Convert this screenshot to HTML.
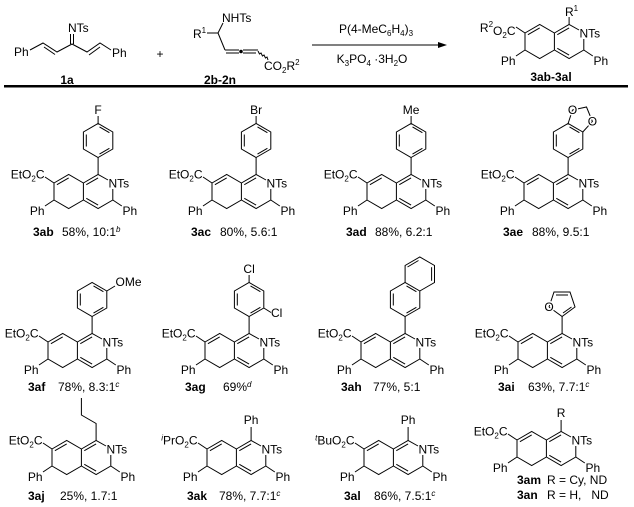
<!DOCTYPE html>
<html><head><meta charset="utf-8"><style>
html,body{margin:0;padding:0;background:#fff}
svg{display:block}
text{font-family:"Liberation Sans",Arial,sans-serif;font-size:12px;fill:#000}
.b{font-weight:bold}
</style></head><body>
<svg width="634" height="507" viewBox="0 0 634 507" xmlns="http://www.w3.org/2000/svg">
<defs>
<g id="core" stroke="#000" stroke-width="1" fill="none">
<polyline points="0,0 14.7,-8.5 29.4,0 29.4,17 14.7,25.5 0,17 0,0"/>
<line x1="2.9" y1="1.7" x2="14.7" y2="-5.1"/>
<polyline points="29.4,0 44.1,-8.5 54,-3"/>
<line x1="32.3" y1="1.7" x2="44.1" y2="-5.1"/>
<polyline points="58.8,6 58.8,17 44.1,25.5 29.4,17"/>
<line x1="32.3" y1="15.3" x2="44.1" y2="22.1"/>
<line x1="0" y1="0" x2="-9" y2="-6"/>
<line x1="0" y1="17" x2="-9" y2="23"/>
<line x1="58.8" y1="17" x2="67.8" y2="23"/>
</g>
<g id="coret">
<use href="#core"/>
<text x="54.5" y="4.3">NTs</text>
<text x="-9.5" y="32" text-anchor="end">Ph</text>
<text x="68.5" y="32">Ph</text>
</g>
<g id="ph" stroke="#000" stroke-width="1" fill="none">
<line x1="44.1" y1="-8.5" x2="44.1" y2="-25.5"/>
<polygon points="44.1,-25.5 58.8,-34 58.8,-51 44.1,-59.5 29.4,-51 29.4,-34"/>
<line x1="32.3" y1="-48.5" x2="32.3" y2="-36.5"/>
<line x1="45.5" y1="-56.1" x2="55.4" y2="-50.3"/>
<line x1="45.5" y1="-28.9" x2="55.4" y2="-34.7"/>
</g>
</defs>

<g stroke="#000" stroke-width="1" fill="none">
<polyline points="30,50 43,43 57,52 72,44 87,52 100,43 111,50"/>
<line x1="44" y1="47" x2="55" y2="54.5"/>
<line x1="89" y1="55" x2="100" y2="47"/>
<line x1="70.5" y1="44" x2="70.5" y2="34"/>
<line x1="73.5" y1="44" x2="73.5" y2="34"/>
</g>
<text x="14" y="56">Ph</text>
<text x="112" y="57">Ph</text>
<text x="68" y="32">NTs</text>
<text x="67" y="84" class="b" text-anchor="middle">1a</text>
<text x="160" y="58" text-anchor="middle">+</text>

<g stroke="#000" stroke-width="1" fill="none">
<line x1="207" y1="33" x2="218" y2="33"/>
<line x1="218" y1="33" x2="223" y2="23"/>
<line x1="218" y1="33" x2="225" y2="50"/>
<line x1="225" y1="50" x2="239" y2="50"/>
<line x1="226" y1="53" x2="239" y2="53"/>
<line x1="243" y1="50" x2="258" y2="50"/>
<line x1="243" y1="53" x2="256" y2="53"/>
<path d="M258,51 l1.5,3 l1.5,-1 l1.5,3 l1.5,-1 l1.5,3 l1.5,-1 l1,3"/>
</g>
<circle cx="241" cy="51.5" r="1.8" fill="#000"/>
<text x="193" y="38">R<tspan dy="-5" font-size="8">1</tspan></text>
<text x="222" y="22">NHTs</text>
<text x="264" y="70">CO<tspan dy="3" font-size="8">2</tspan><tspan dy="-3">R</tspan><tspan dy="-5" font-size="8">2</tspan></text>
<text x="220" y="84" class="b" text-anchor="middle">2b-2n</text>

<line x1="312" y1="45" x2="440" y2="45" stroke="#000" stroke-width="1"/>
<polygon points="447,45 438,42 438,48" fill="#000"/>
<text x="376" y="33" text-anchor="middle">P(4-MeC<tspan dy="3" font-size="8">6</tspan><tspan dy="-3">H</tspan><tspan dy="3" font-size="8">4</tspan><tspan dy="-3">)</tspan><tspan dy="3" font-size="8">3</tspan></text>
<text x="372" y="63" text-anchor="middle">K<tspan dy="3" font-size="8">3</tspan><tspan dy="-3">PO</tspan><tspan dy="3" font-size="8">4</tspan><tspan dy="-3">&#160;·3H</tspan><tspan dy="3" font-size="8">2</tspan><tspan dy="-3">O</tspan></text>

<g transform="translate(525,33)">
<use href="#coret"/>
<line x1="44.1" y1="-8.5" x2="44.1" y2="-16" stroke="#000"/>
<text x="40" y="-17">R<tspan dy="-5" font-size="8">1</tspan></text>
<text x="-9.5" y="-1" text-anchor="end">R<tspan dy="-5" font-size="8">2</tspan><tspan dy="8">O</tspan><tspan dy="3" font-size="8">2</tspan><tspan dy="-3">C</tspan></text>
<text x="26" y="48" class="b" text-anchor="middle">3ab-3al</text>
</g>

<rect x="4" y="85" width="624" height="2.5" fill="#000"/>

<g transform="translate(54,183)">
<use href="#coret"/><use href="#ph"/>
<line x1="44.1" y1="-59.5" x2="44.1" y2="-67" stroke="#000"/>
<text x="44.1" y="-69" text-anchor="middle">F</text>
<text x="-9.5" y="-4.5" text-anchor="end">EtO<tspan dy="3" font-size="8">2</tspan><tspan dy="-3">C</tspan></text>
<text x="-21" y="53"><tspan class="b">3ab</tspan><tspan x="8">58%, 10:1</tspan><tspan dy="-4" font-size="8" font-style="italic">b</tspan></text>
</g>
<g transform="translate(212,183)">
<use href="#coret"/><use href="#ph"/>
<line x1="44.1" y1="-59.5" x2="44.1" y2="-67" stroke="#000"/>
<text x="44.1" y="-69" text-anchor="middle">Br</text>
<text x="-9.5" y="-4.5" text-anchor="end">EtO<tspan dy="3" font-size="8">2</tspan><tspan dy="-3">C</tspan></text>
<text x="-21" y="53"><tspan class="b">3ac</tspan><tspan x="8">80%, 5.6:1</tspan></text>
</g>
<g transform="translate(367,183)">
<use href="#coret"/><use href="#ph"/>
<line x1="44.1" y1="-59.5" x2="44.1" y2="-67" stroke="#000"/>
<text x="44.1" y="-69" text-anchor="middle">Me</text>
<text x="-9.5" y="-4.5" text-anchor="end">EtO<tspan dy="3" font-size="8">2</tspan><tspan dy="-3">C</tspan></text>
<text x="-21" y="53"><tspan class="b">3ad</tspan><tspan x="8">88%, 6.2:1</tspan></text>
</g>
<g transform="translate(524,183)">
<use href="#coret"/><use href="#ph"/>
<g stroke="#000" fill="none"><polyline points="44.1,-59.5 48.5,-73 62.5,-76 68.4,-61.6 58.8,-51"/></g>
<text x="48.5" y="-69" text-anchor="middle" stroke="#fff" stroke-width="3" paint-order="stroke">O</text>
<text x="68.4" y="-57.5" text-anchor="middle" stroke="#fff" stroke-width="3" paint-order="stroke">O</text>
<text x="-9.5" y="-4.5" text-anchor="end">EtO<tspan dy="3" font-size="8">2</tspan><tspan dy="-3">C</tspan></text>
<text x="-21" y="53"><tspan class="b">3ae</tspan><tspan x="8">88%, 9.5:1</tspan></text>
</g>

<g transform="translate(48,342)">
<use href="#coret"/><use href="#ph"/>
<line x1="58.8" y1="-51" x2="67" y2="-56" stroke="#000"/>
<text x="67.5" y="-56">OMe</text>
<text x="-9.5" y="-4.5" text-anchor="end">EtO<tspan dy="3" font-size="8">2</tspan><tspan dy="-3">C</tspan></text>
<text x="-20" y="49"><tspan class="b">3af</tspan><tspan x="10">78%, 8.3:1</tspan><tspan dy="-4" font-size="8" font-style="italic">c</tspan></text>
</g>
<g transform="translate(205,342)">
<use href="#coret"/><use href="#ph"/>
<line x1="44.1" y1="-59.5" x2="44.1" y2="-67" stroke="#000"/>
<text x="44.1" y="-69" text-anchor="middle">Cl</text>
<line x1="58.8" y1="-34" x2="66" y2="-29.5" stroke="#000"/>
<text x="66" y="-25">Cl</text>
<text x="-9.5" y="-4.5" text-anchor="end">EtO<tspan dy="3" font-size="8">2</tspan><tspan dy="-3">C</tspan></text>
<text x="-20" y="49"><tspan class="b">3ag</tspan><tspan x="18">69%</tspan><tspan dy="-4" font-size="8" font-style="italic">d</tspan></text>
</g>
<g transform="translate(361,342)">
<use href="#coret"/><use href="#ph"/>
<g stroke="#000" fill="none">
<polyline points="44.1,-59.5 44.1,-76.5 58.8,-85 73.5,-76.5 73.5,-59.5 58.8,-51"/>
<line x1="70.6" y1="-74.8" x2="70.6" y2="-61.2"/>
<line x1="46.5" y1="-75" x2="57.5" y2="-81.5"/>
</g>
<text x="-9.5" y="-4.5" text-anchor="end">EtO<tspan dy="3" font-size="8">2</tspan><tspan dy="-3">C</tspan></text>
<text x="-20" y="49"><tspan class="b">3ah</tspan><tspan x="12">77%, 5:1</tspan></text>
</g>
<g transform="translate(518,342)">
<use href="#coret"/>
<g stroke="#000" fill="none">
<line x1="44.1" y1="-8.5" x2="44.1" y2="-25.5"/>
<polyline points="31,-35 44.1,-25.5 57,-35 52,-50 36,-50 31,-35"/>
<line x1="45" y1="-29" x2="53.5" y2="-35"/>
<line x1="38" y1="-47" x2="50" y2="-47"/>
</g>
<text x="31" y="-31" text-anchor="middle" stroke="#fff" stroke-width="3" paint-order="stroke">O</text>
<text x="-9.5" y="-4.5" text-anchor="end">EtO<tspan dy="3" font-size="8">2</tspan><tspan dy="-3">C</tspan></text>
<text x="-20" y="49"><tspan class="b">3ai</tspan><tspan x="10">63%, 7.7:1</tspan><tspan dy="-4" font-size="8" font-style="italic">c</tspan></text>
</g>

<g transform="translate(52,449)">
<use href="#coret"/>
<polyline points="44.1,-8.5 44.1,-25.5 29.4,-34 29.4,-51" stroke="#000" fill="none"/>
<text x="-9.5" y="-4.5" text-anchor="end">EtO<tspan dy="3" font-size="8">2</tspan><tspan dy="-3">C</tspan></text>
<text x="-24" y="51"><tspan class="b">3aj</tspan><tspan x="8">25%, 1.7:1</tspan></text>
</g>
<g transform="translate(207,449)">
<use href="#coret"/>
<line x1="44.1" y1="-8.5" x2="44.1" y2="-22" stroke="#000"/>
<text x="44.1" y="-25" text-anchor="middle">Ph</text>
<text x="-9.5" y="-4.5" text-anchor="end"><tspan font-size="8" font-style="italic" dy="-4">i</tspan><tspan dy="4">PrO</tspan><tspan dy="3" font-size="8">2</tspan><tspan dy="-3">C</tspan></text>
<text x="-20" y="51"><tspan class="b">3ak</tspan><tspan x="12">78%, 7.7:1</tspan><tspan dy="-4" font-size="8" font-style="italic">c</tspan></text>
</g>
<g transform="translate(364,449)">
<use href="#coret"/>
<line x1="44.1" y1="-8.5" x2="44.1" y2="-22" stroke="#000"/>
<text x="44.1" y="-25" text-anchor="middle">Ph</text>
<text x="-9.5" y="-4.5" text-anchor="end"><tspan font-size="8" font-style="italic" dy="-4">t</tspan><tspan dy="4">BuO</tspan><tspan dy="3" font-size="8">2</tspan><tspan dy="-3">C</tspan></text>
<text x="-20" y="51"><tspan class="b">3al</tspan><tspan x="10">86%, 7.5:1</tspan><tspan dy="-4" font-size="8" font-style="italic">c</tspan></text>
</g>
<g transform="translate(517,440)">
<use href="#coret"/>
<line x1="44.1" y1="-8.5" x2="44.1" y2="-20" stroke="#000"/>
<text x="44.1" y="-23" text-anchor="middle">R</text>
<text x="-9.5" y="-4.5" text-anchor="end">EtO<tspan dy="3" font-size="8">2</tspan><tspan dy="-3">C</tspan></text>
<text x="0" y="44" class="b">3am</text><text x="30" y="44">R = Cy, ND</text>
<text x="0" y="59" class="b">3an</text><text x="30" y="59">R = H,&#160;&#160;&#160;ND</text>
</g>
</svg>
</body></html>
